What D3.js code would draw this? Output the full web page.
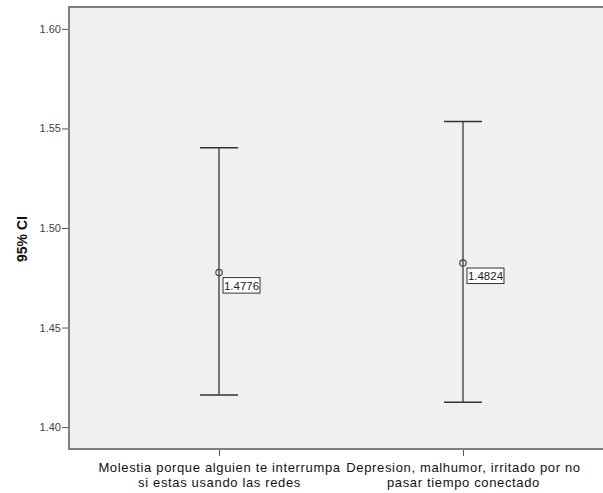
<!DOCTYPE html>
<html>
<head>
<meta charset="utf-8">
<script src="https://cdn.jsdelivr.net/npm/d3@7"></script>
<style>
  body { margin: 0; background: #fff; }
  svg { display: block; font-family: "Liberation Sans", Arial, sans-serif; }
</style>
</head>
<body>
<div id="chart"></div>
<script>
// Data
const categories = [
  ["Molestia porque alguien te interrumpa", "si estas usando las redes"],
  ["Depresion, malhumor, irritado por no", "pasar tiempo conectado"]
];
const means = [1.4776, 1.4824];
const lower = [1.4161, 1.4125];
const upper = [1.5403, 1.5535];
const yTicks = [1.40, 1.45, 1.50, 1.55, 1.60];

const W = 603, H = 493;
// plot frame runs past the right edge of the window
const plot = { left: 69, top: 7, right: 613, bottom: 449 };

const svg = d3.select("#chart").append("svg")
  .attr("width", W)
  .attr("height", H);

const x = d3.scalePoint()
  .domain(d3.range(categories.length))
  .range([plot.left, plot.right])
  .padding(0.615);

const y = d3.scaleLinear()
  .domain([1.389, 1.611])
  .range([plot.bottom, plot.top]);

// background
svg.append("rect")
  .attr("x", plot.left).attr("y", plot.top)
  .attr("width", plot.right - plot.left).attr("height", plot.bottom - plot.top)
  .attr("fill", "#f0f0f0")
  .attr("stroke", "#808080")
  .attr("stroke-width", 2);

// y axis
const yAxis = d3.axisLeft(y)
  .tickValues(yTicks)
  .tickFormat(d3.format(".2f"))
  .tickSize(6)
  .tickPadding(1);

const gy = svg.append("g")
  .attr("transform", `translate(${plot.left - 1},0)`)
  .call(yAxis);
gy.select(".domain").remove();
gy.selectAll(".tick line").attr("stroke", "#555").attr("stroke-width", 1);
gy.selectAll(".tick text")
  .attr("fill", "#444")
  .style("font-size", "11px")
  .style("font-family", "'Liberation Sans', Arial, sans-serif");

// x axis
const xAxis = d3.axisBottom(x).tickSize(6).tickFormat("");
const gx = svg.append("g")
  .attr("transform", `translate(0,${plot.bottom + 1})`)
  .call(xAxis);
gx.select(".domain").remove();
gx.selectAll(".tick line").attr("stroke", "#555");

// one text per label line so lines do not share a box
gx.selectAll(".tick").each(function(d) {
  const tick = d3.select(this);
  categories[d].forEach((line, i) => {
    tick.append("text")
      .attr("fill", "#111")
      .attr("text-anchor", "middle")
      .attr("y", 22 + i * 15)
      .style("font-size", "13px")
      .style("letter-spacing", "0.65px")
      .style("font-family", "'Liberation Sans', Arial, sans-serif")
      .text(line);
  });
});

// y axis title
svg.append("text")
  .attr("transform", "translate(27,239) rotate(-90)")
  .attr("text-anchor", "middle")
  .attr("fill", "#111")
  .style("font-size", "14px")
  .style("font-weight", "bold")
  .text("95% CI");

// error bars
const capHalf = 19;
const bars = svg.append("g").selectAll("g")
  .data(means.map((m, i) => ({ i, m, lo: lower[i], hi: upper[i] })))
  .join("g");

bars.append("line")
  .attr("x1", d => x(d.i)).attr("x2", d => x(d.i))
  .attr("y1", d => y(d.hi)).attr("y2", d => y(d.lo))
  .attr("stroke", "#777").attr("stroke-width", 2);

bars.selectAll("line.cap")
  .data(d => [d.hi, d.lo].map(v => ({ i: d.i, v })))
  .join("line")
  .attr("class", "cap")
  .attr("x1", d => x(d.i) - capHalf).attr("x2", d => x(d.i) + capHalf)
  .attr("y1", d => y(d.v)).attr("y2", d => y(d.v))
  .attr("stroke", "#333").attr("stroke-width", 1.5);

bars.append("circle")
  .attr("cx", d => x(d.i)).attr("cy", d => y(d.m))
  .attr("r", 3.2)
  .attr("fill", "none")
  .attr("stroke", "#444").attr("stroke-width", 1.2);

// value labels
bars.append("rect")
  .attr("x", d => x(d.i) + 4).attr("y", d => y(d.m) + 5)
  .attr("width", 37).attr("height", 15.5)
  .attr("fill", "#fff")
  .attr("stroke", "#333").attr("stroke-width", 1);

bars.append("text")
  .attr("x", d => x(d.i) + 22.5).attr("y", d => y(d.m) + 17)
  .attr("text-anchor", "middle")
  .attr("fill", "#222")
  .style("font-size", "11.5px")
  .text(d => d.m.toFixed(4));
</script>
</body>
</html>
